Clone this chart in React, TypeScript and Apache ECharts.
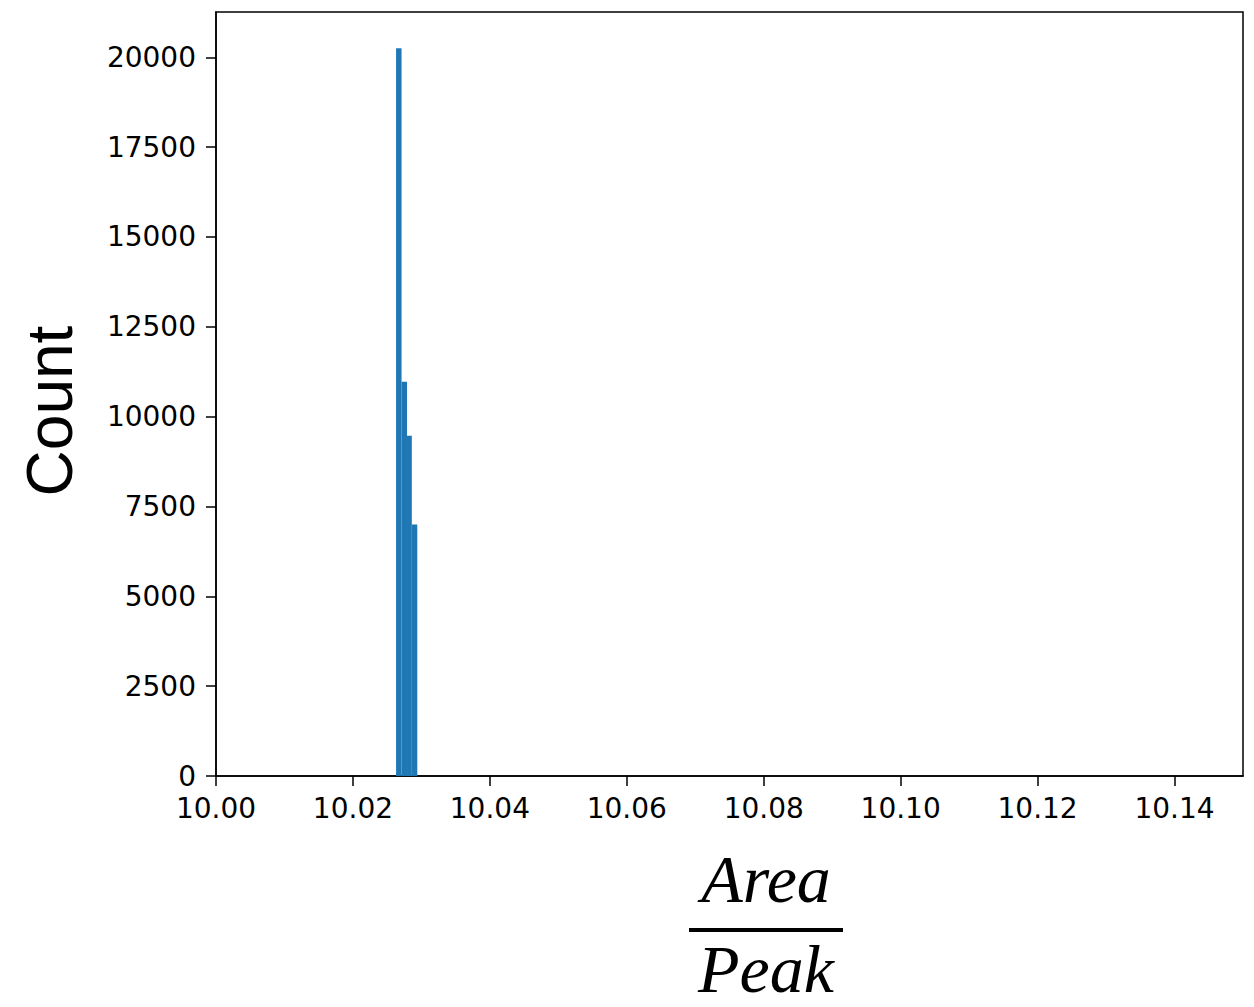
import React, { useEffect, useRef } from "react";
import * as echarts from "echarts";

const binEdges = [10.0263, 10.0271, 10.0279, 10.0286, 10.0294];
const counts = [20250, 10970, 9470, 7000];
const xMin = 10.0;
const xMax = 10.15;
const xInterval = 0.02;
const yMax = 21260;
const yInterval = 2500;
const yLabel = "Count";
const xLabelTop = "Area";
const xLabelBottom = "Peak";

export default function App() {
  const ref = useRef<HTMLDivElement>(null);
  useEffect(() => {
    if (!ref.current) return;
    const chart = echarts.init(ref.current, undefined, { renderer: "svg" });
    const data = counts.map((c, i) => [binEdges[i], binEdges[i + 1], c]);
    chart.setOption({
      animation: false,
      backgroundColor: "#ffffff",
      grid: {
        left: 216,
        top: 12,
        right: 11,
        bottom: 231,
        show: true,
        borderColor: "#000",
        borderWidth: 1.5,
        backgroundColor: "transparent",
      },
      xAxis: {
        type: "value",
        min: xMin,
        max: xMax,
        interval: xInterval,
        axisLine: { show: true, onZero: false, lineStyle: { color: "#000", width: 1.5 } },
        axisTick: { show: true, inside: false, length: 10, lineStyle: { color: "#000", width: 1.5 } },
        splitLine: { show: false },
        axisLabel: {
          showMaxLabel: false,
          margin: 18,
          color: "#000",
          fontSize: 28,
          fontFamily: "DejaVu Sans",
          formatter: (v: number) => v.toFixed(2),
        },
      },
      yAxis: {
        type: "value",
        min: 0,
        max: yMax,
        interval: yInterval,
        axisLine: { show: true, lineStyle: { color: "#000", width: 1.5 } },
        axisTick: { show: true, inside: false, length: 10, lineStyle: { color: "#000", width: 1.5 } },
        splitLine: { show: false },
        axisLabel: {
          showMaxLabel: false,
          margin: 20,
          color: "#000",
          fontSize: 28,
          fontFamily: "DejaVu Sans",
          formatter: (v: number) => String(Math.round(v)),
        },
      },
      series: [
        {
          type: "custom",
          data,
          encode: { x: [0, 1], y: 2 },
          renderItem: (params: any, api: any) => {
            const p0 = api.coord([api.value(0), api.value(2)]);
            const p1 = api.coord([api.value(1), 0]);
            return {
              type: "rect",
              shape: { x: p0[0], y: p0[1], width: p1[0] - p0[0], height: p1[1] - p0[1] },
              style: { fill: "#1f77b4", stroke: "none" },
            };
          },
        },
      ],
      graphic: [
        {
          type: "text",
          x: 50,
          y: 411,
          rotation: Math.PI / 2,
          style: {
            text: yLabel,
            fontSize: 64,
            fontFamily: "Liberation Sans",
            fill: "#000",
            align: "center",
            verticalAlign: "middle",
          },
        },
        {
          type: "text",
          x: 766,
          y: 913,
          style: {
            text: xLabelTop,
            fontSize: 68,
            fontStyle: "italic",
            fontFamily: "Liberation Serif",
            fill: "#000",
            align: "center",
            verticalAlign: "bottom",
          },
        },
        {
          type: "rect",
          shape: { x: 689, y: 928, width: 154, height: 4 },
          style: { fill: "#000" },
        },
        {
          type: "text",
          x: 766,
          y: 1003,
          style: {
            text: xLabelBottom,
            fontSize: 68,
            fontStyle: "italic",
            fontFamily: "Liberation Serif",
            fill: "#000",
            align: "center",
            verticalAlign: "bottom",
          },
        },
      ],
    });
    return () => chart.dispose();
  }, []);
  return (
    <div
      ref={ref}
      style={{ position: "fixed", left: 0, top: 0, width: 1254, height: 1007 }}
    />
  );
}
